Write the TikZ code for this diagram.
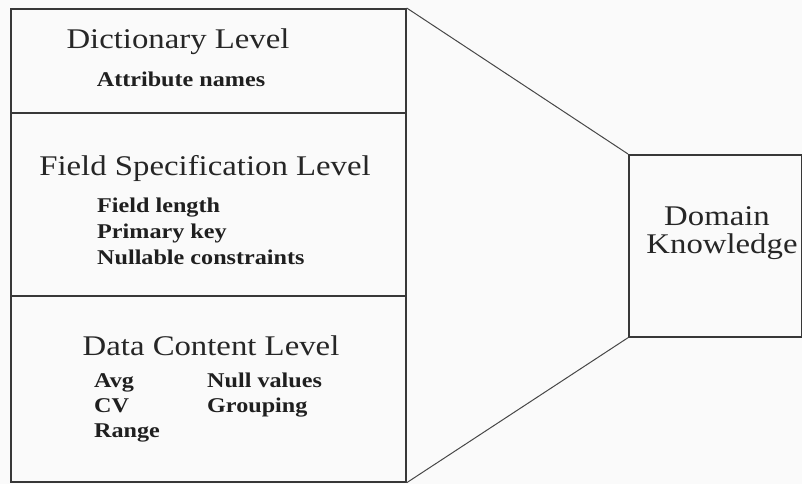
\documentclass[tikz,border=0pt]{standalone}
\usepackage{fontspec}
\setmainfont{Liberation Serif}
\newfontfamily\widefont[FakeStretch=1.15]{Liberation Serif}
\begin{document}
\begin{tikzpicture}[x=1pt,y=-1pt,
  box/.style={draw=black!78,line width=1.7pt,inner sep=0pt,anchor=north west},
  head/.style={anchor=base,inner sep=0pt,text=black!85,font=\widefont\fontsize{28.5}{30}\selectfont},
  item/.style={anchor=base west,inner sep=0pt,text=black!88,font=\widefont\fontsize{21}{22}\selectfont\bfseries},
  link/.style={draw=black!72,line width=1pt}]
\fill[gray!4] (0,0) rectangle (802,484);
\useasboundingbox (0,0) rectangle (802,484);
\node[box,minimum width=395pt,minimum height=104pt] (dict) at (10,8) {};
\node[box,minimum width=395pt,minimum height=183pt] (field) at (10,112) {};
\node[box,minimum width=395pt,minimum height=186pt] (data) at (10,295) {};
\node[box,minimum width=173pt,minimum height=182pt] (dk) at (628,154) {};
\node[head] (t1) at (178,49) {Dictionary Level};
\node[item,anchor=base] (i1) at (181,87) {Attribute names};
\node[head] (t2) at (205,175) {Field Specification Level};
\node[item] (i2) at (97,212) {Field length};
\node[item] (i3) at (97,238) {Primary key};
\node[item] (i4) at (97,264) {Nullable constraints};
\node[head] (t3) at (211,355) {Data Content Level};
\node[item] (i5) at (94,387) {Avg};
\node[item] (i6) at (94,412) {CV};
\node[item] (i7) at (94,437) {Range};
\node[item] (i8) at (207,387) {Null values};
\node[item] (i9) at (207,412) {Grouping};
\node[head] (d1) at (717,225) {Domain};
\node[head] (d2) at (722,253) {Knowledge};
\draw[link] (dict.north east) -- (dk.north west);
\draw[link] (data.south east) -- (dk.south west);
\end{tikzpicture}
\end{document}
